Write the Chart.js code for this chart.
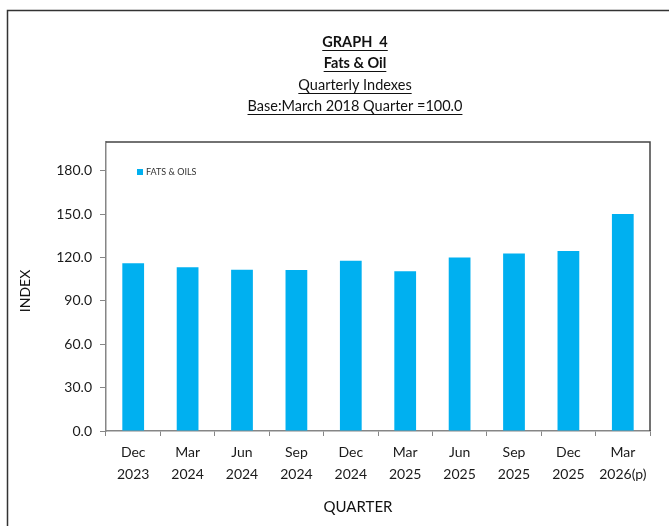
<!DOCTYPE html>
<html>
<head>
<meta charset="utf-8">
<script src="https://cdn.jsdelivr.net/npm/chart.js@4.4.0/dist/chart.umd.min.js"></script>
<style>
  html, body { margin: 0; padding: 0; background: #fff; }
  #wrap { position: relative; width: 669px; height: 526px; }
</style>
</head>
<body>
<div id="wrap"><canvas id="chart" width="669" height="526"></canvas></div>
<script>
// data
const quarters = [
    ['Dec', '2023'], ['Mar', '2024'], ['Jun', '2024'], ['Sep', '2024'], ['Dec', '2024'],
    ['Mar', '2025'], ['Jun', '2025'], ['Sep', '2025'], ['Dec', '2025'], ['Mar', '2026(p)']
];
const fatsOils = [116.1, 113.3, 111.6, 111.5, 117.9, 110.6, 120.0, 122.8, 124.5, 150.2];
const yTicks = [0, 30, 60, 90, 120, 150, 180];
const titleLines = ['GRAPH  4', 'Fats & Oil', 'Quarterly Indexes', 'Base:March 2018 Quarter =100.0'];

const FONT = 'Lato, "Liberation Sans", sans-serif';
const BAR_COLOR = '#00B0F0';

// frame, titles, legend and axis titles drawn straight on the canvas
const decorations = {
    id: 'decorations',
    beforeDraw(chart) {
        const ctx = chart.ctx;
        ctx.save();
        ctx.fillStyle = '#fff';
        ctx.fillRect(0, 0, chart.width, chart.height);
        ctx.restore();
    },
    afterDraw(chart) {
        const ctx = chart.ctx;
        const area = chart.chartArea;
        ctx.save();

        // outer frame (runs off the right and bottom edges)
        ctx.strokeStyle = '#333';
        ctx.lineWidth = 1.5;
        ctx.strokeRect(7.5, 10.5, 720, 600);

        // plot area border, top and right
        ctx.strokeStyle = '#444';
        ctx.lineWidth = 1.5;
        ctx.beginPath();
        ctx.moveTo(area.left, area.top);
        ctx.lineTo(area.right, area.top);
        ctx.lineTo(area.right, area.bottom);
        ctx.stroke();

        // title block
        const cx = 355;
        const ys = [42, 63, 85, 106];
        const fonts = ['bold 14.5px ' + FONT, 'bold 14.5px ' + FONT, '14.5px ' + FONT, '14.5px ' + FONT];
        ctx.fillStyle = '#111';
        ctx.textAlign = 'center';
        ctx.textBaseline = 'middle';
        ctx.lineWidth = 1;
        ctx.strokeStyle = '#111';
        titleLines.forEach((t, i) => {
            ctx.font = fonts[i];
            ctx.fillText(t, cx, ys[i]);
            const w = ctx.measureText(t).width;
            ctx.beginPath();
            ctx.moveTo(cx - w / 2, ys[i] + 8.5);
            ctx.lineTo(cx + w / 2, ys[i] + 8.5);
            ctx.stroke();
        });

        // legend
        const ds = chart.data.datasets[0];
        ctx.fillStyle = ds.backgroundColor;
        ctx.fillRect(137, 169, 6, 6);
        ctx.fillStyle = '#333';
        ctx.font = '9px ' + FONT;
        ctx.textAlign = 'left';
        ctx.fillText(ds.label, 146, 172.5);

        // axis titles
        ctx.fillStyle = '#111';
        ctx.font = '15px ' + FONT;
        ctx.textAlign = 'center';
        ctx.fillText('QUARTER', 358, 507);
        ctx.save();
        ctx.translate(25, 291);
        ctx.rotate(-Math.PI / 2);
        ctx.font = '14px ' + FONT;
        ctx.fillText('INDEX', 0, 0);
        ctx.restore();

        ctx.restore();
    }
};

new Chart(document.getElementById('chart'), {
    type: 'bar',
    data: {
        labels: quarters,
        datasets: [{
            label: 'FATS & OILS',
            data: fatsOils,
            backgroundColor: BAR_COLOR,
            borderWidth: 0,
            barPercentage: 0.4,
            categoryPercentage: 1.0,
        }],
    },
    options: {
        responsive: false,
        animation: false,
        layout: { padding: { left: 0, right: 19, top: 142, bottom: 0 } },
        plugins: {
            legend: { display: false },
            title: { display: false },
            tooltip: { enabled: false },
        },
        scales: {
            x: {
                grid: { drawOnChartArea: false, color: '#868686', tickLength: 5, offset: true },
                border: { color: '#868686', width: 1.5 },
                ticks: {
                    color: '#1a1a1a',
                    font: { family: FONT, size: 14, lineHeight: 1.55 },
                    padding: 6,
                    maxRotation: 0,
                    autoSkip: false,
                },
                afterFit(scale) { scale.height = 95; },
            },
            y: {
                min: 0,
                max: 200,
                afterBuildTicks(scale) {
                    scale.ticks = yTicks.map(v => ({ value: v }));
                },
                grid: { drawOnChartArea: false, color: '#868686', tickLength: 6 },
                border: { color: '#868686', width: 1.5 },
                ticks: {
                    color: '#1a1a1a',
                    font: { family: FONT, size: 14 },
                    padding: 8,
                    callback: v => v.toFixed(1),
                },
                afterFit(scale) { scale.width = 106; },
            },
        },
    },
    plugins: [decorations],
});
</script>
</body>
</html>
